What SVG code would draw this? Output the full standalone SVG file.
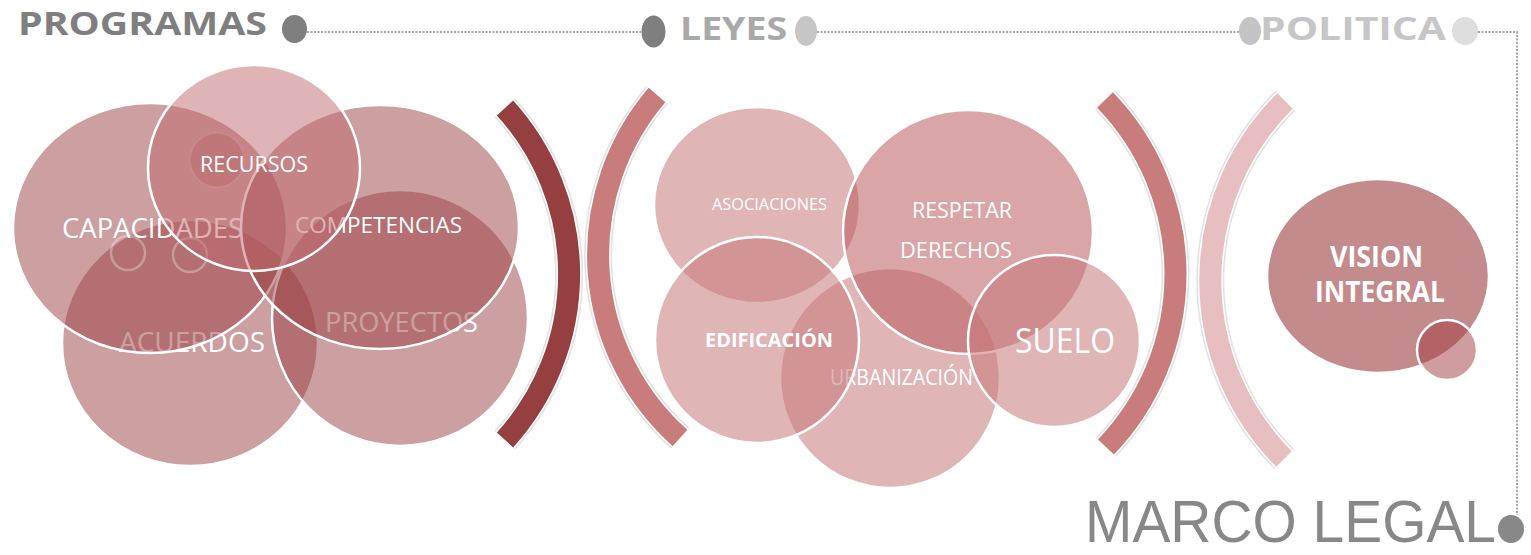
<svg xmlns="http://www.w3.org/2000/svg" width="1531" height="555" viewBox="0 0 1531 555">
<style>
text{font-family:"Open Sans","Liberation Sans",Arial,sans-serif;}
.lbl{fill:#ffffff;}
.b{font-weight:bold;}
.cL{fill:#993f41;fill-opacity:0.5;stroke:#ffffff;stroke-width:2.5;}
.cR{fill:#bf696d;fill-opacity:0.5;stroke:#ffffff;stroke-width:2.5;}
.cM{fill:#c7787a;fill-opacity:0.55;stroke:#ffffff;stroke-width:2.5;}
.cD{fill:#ba5b5d;fill-opacity:0.55;stroke:#ffffff;stroke-width:2.5;}
.halo1{fill:none;stroke:#e2e2e2;stroke-width:28;}
.halo2{fill:none;stroke:#ffffff;stroke-width:25;}
.dot{stroke:none;}
.dl{fill:none;stroke:#a6a6a6;stroke-width:2;stroke-dasharray:2 1.5;}
</style>
<rect width="1531" height="555" fill="#ffffff"/>

<!-- connectors / timeline -->
<g id="connectors">
  <line class="dl" x1="307" y1="32" x2="641" y2="32"/>
  <line class="dl" x1="817" y1="32" x2="1239" y2="32" stroke="#b4b4b4"/>
  <polyline class="dl" points="1478,32 1517,32 1517,515"/>
</g>

<g id="programas">
  <text x="18" y="35" class="b" font-size="32" fill="#7f7f7f" textLength="249" lengthAdjust="spacingAndGlyphs">PROGRAMAS</text>
  <ellipse class="dot" cx="294.5" cy="29" rx="12.5" ry="14" fill="#7f7f7f"/>
</g>
<g id="leyes">
  <ellipse class="dot" cx="653.5" cy="31.5" rx="12" ry="16" fill="#7f7f7f"/>
  <text x="680" y="40" class="b" font-size="33" fill="#a9a9a9" textLength="107" lengthAdjust="spacingAndGlyphs">LEYES</text>
  <ellipse class="dot" cx="806" cy="31" rx="11" ry="15" fill="#c6c6c6"/>
</g>
<g id="politica">
  <ellipse class="dot" cx="1250" cy="31" rx="11" ry="14" fill="#c4c4c4"/>
  <text x="1260" y="40" class="b" font-size="32" fill="#c6c6c6" textLength="186" lengthAdjust="spacingAndGlyphs">POLITICA</text>
  <ellipse class="dot" cx="1465" cy="31" rx="13" ry="14" fill="#dedede"/>
</g>
<g id="marco-legal">
  <text x="1085" y="542" font-size="59" fill="#888888" style="font-family:'Liberation Sans',Arial,sans-serif" textLength="411" lengthAdjust="spacingAndGlyphs">MARCO LEGAL</text>
  <ellipse class="dot" cx="1511" cy="529" rx="13" ry="14" fill="#888888"/>
</g>

<!-- left cluster -->
<g id="acuerdos">
  <ellipse class="cL" cx="190" cy="343" rx="128" ry="123"/>
  <text class="lbl" x="119" y="352" font-size="28" textLength="146" lengthAdjust="spacingAndGlyphs">ACUERDOS</text>
</g>
<g id="proyectos">
  <ellipse class="cL" cx="400" cy="318" rx="128" ry="128"/>
  <text class="lbl" x="325" y="332" font-size="28" textLength="153" lengthAdjust="spacingAndGlyphs">PROYECTOS</text>
</g>
<g id="capacidades">
  <ellipse class="cL" cx="150" cy="228" rx="137" ry="125"/>
  <circle cx="128" cy="253" r="17" fill="none" stroke="#ffffff" stroke-opacity="0.3" stroke-width="2.5"/>
  <circle cx="190" cy="255" r="17" fill="none" stroke="#ffffff" stroke-opacity="0.3" stroke-width="2.5"/>
  <text class="lbl" x="62" y="238" font-size="28" textLength="181" lengthAdjust="spacingAndGlyphs">CAPACIDADES</text>
</g>
<g id="competencias">
  <ellipse class="cL" cx="380" cy="227" rx="139" ry="122"/>
  <text class="lbl" x="295" y="233" font-size="21" textLength="167" lengthAdjust="spacingAndGlyphs">COMPETENCIAS</text>
</g>
<g id="recursos">
  <ellipse class="cR" cx="254" cy="168" rx="106" ry="103"/>
  <circle cx="217" cy="160" r="27" fill="#b0585c" fill-opacity="0.3" stroke="#ffffff" stroke-opacity="0.08" stroke-width="2"/>
  <text class="lbl" x="200" y="172" font-size="21" textLength="108" lengthAdjust="spacingAndGlyphs">RECURSOS</text>
</g>

<!-- brackets -->
<g id="bracket-1">
  <path class="halo1" d="M505 108 A247 247 0 0 1 505 440"/>
  <path class="halo2" d="M505 108 A247 247 0 0 1 505 440"/>
  <path d="M505 108 A247 247 0 0 1 505 440" fill="none" stroke="#953f40" stroke-width="22"/>
</g>
<g id="bracket-2">
  <path class="halo1" d="M657 95 A246 246 0 0 0 680 438"/>
  <path class="halo2" d="M657 95 A246 246 0 0 0 680 438"/>
  <path d="M657 95 A246 246 0 0 0 680 438" fill="none" stroke="#c97c7c" stroke-width="22"/>
</g>
<g id="bracket-3">
  <path class="halo1" d="M1105 100 A250 250 0 0 1 1106 447"/>
  <path class="halo2" d="M1105 100 A250 250 0 0 1 1106 447"/>
  <path d="M1105 100 A250 250 0 0 1 1106 447" fill="none" stroke="#c97c7c" stroke-width="22"/>
</g>
<g id="bracket-4">
  <path class="halo1" d="M1285 101 A253 253 0 0 0 1284 459"/>
  <path class="halo2" d="M1285 101 A253 253 0 0 0 1284 459"/>
  <path d="M1285 101 A253 253 0 0 0 1284 459" fill="none" stroke="#e8bfc0" stroke-width="22"/>
</g>

<!-- middle cluster -->
<g id="urbanizacion">
  <circle class="cM" cx="890" cy="378" r="110"/>
  <text class="lbl" x="830" y="385" font-size="21" textLength="143" lengthAdjust="spacingAndGlyphs">URBANIZACIÓN</text>
</g>
<g id="asociaciones">
  <ellipse class="cM" cx="757" cy="205" rx="103" ry="98"/>
  <text class="lbl" x="712" y="210" font-size="17" textLength="115" lengthAdjust="spacingAndGlyphs">ASOCIACIONES</text>
</g>
<g id="edificacion">
  <ellipse class="cM" cx="757" cy="340" rx="102" ry="103"/>
  <text class="lbl b" x="705" y="347" font-size="20" textLength="128" lengthAdjust="spacingAndGlyphs">EDIFICACIÓN</text>
</g>
<g id="respetar-derechos">
  <ellipse class="cD" cx="968" cy="232" rx="125" ry="122"/>
  <text class="lbl" x="912" y="218" font-size="22" textLength="100" lengthAdjust="spacingAndGlyphs">RESPETAR</text>
  <text class="lbl" x="900" y="258" font-size="22" textLength="112" lengthAdjust="spacingAndGlyphs">DERECHOS</text>
</g>
<g id="suelo">
  <circle class="cM" cx="1054" cy="341" r="86"/>
  <text class="lbl" x="1015" y="353" font-size="35" textLength="100" lengthAdjust="spacingAndGlyphs">SUELO</text>
</g>

<!-- vision integral -->
<g id="vision-integral">
  <ellipse cx="1378" cy="276" rx="111" ry="97" fill="#c48b8c" stroke="#ffffff" stroke-width="2.5"/>
  <text class="lbl b" x="1330" y="267" font-size="28" textLength="93" lengthAdjust="spacingAndGlyphs">VISION</text>
  <text class="lbl b" x="1315" y="302" font-size="28" textLength="130" lengthAdjust="spacingAndGlyphs">INTEGRAL</text>
  <circle cx="1447" cy="350" r="30" fill="#a13b3d" fill-opacity="0.5" stroke="#ffffff" stroke-width="2.5"/>
</g>
</svg>
